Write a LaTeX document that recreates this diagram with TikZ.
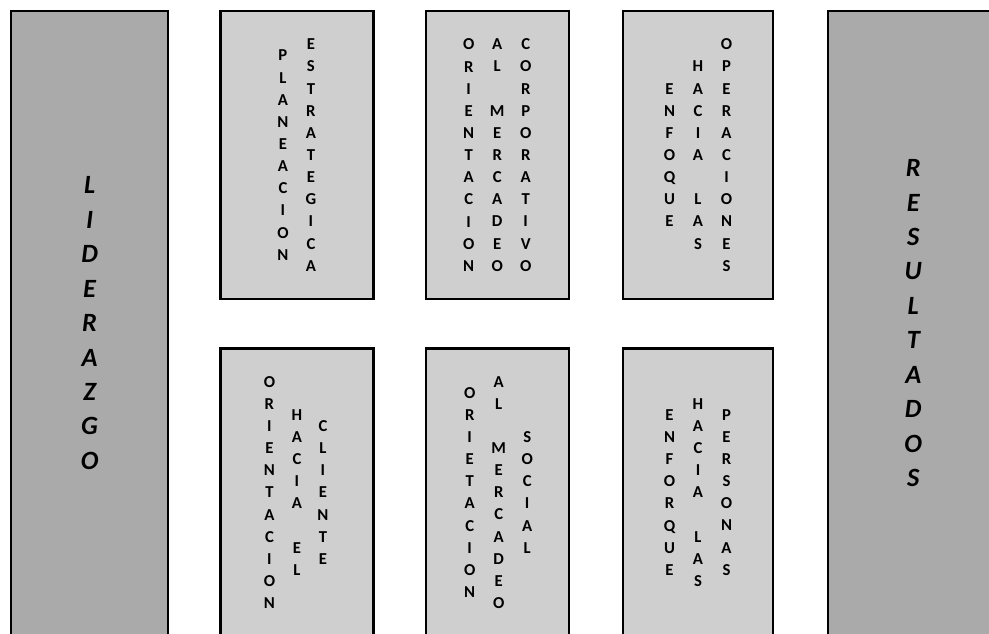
\documentclass[tikz,border=0pt]{standalone}
\usepackage{fontspec}
\setmainfont{Carlito}
\usetikzlibrary{positioning}
\definecolor{sidegray}{HTML}{AAAAAA}
\definecolor{boxgray}{HTML}{CFCFCF}
\newcommand{\vacio}{\mbox{}}

\begin{document}
\begin{tikzpicture}[
                side/.style={rectangle, draw, line width=1.3pt, fill=sidegray, minimum height=12.6cm, inner sep=0pt},
                area/.style={rectangle, draw, line width=1.3pt, fill=boxgray, minimum height=5.76cm, inner sep=0pt},
                sidetext/.style={align=center, inner sep=0pt, font=\fontsize{15}{19.6}\selectfont\bfseries\itshape},
                letters/.style={align=center, inner sep=0pt, font=\fontsize{9.5}{12.6}\selectfont\bfseries}
            ]
                \clip (0,0) rectangle (19.78,-12.68);

                % Side columns
                \node[side, minimum width=3.14cm, anchor=north west] (lid) at (0.2,-0.2) {};
                \node[sidetext] (lidtxt) at ([yshift=0.06cm]lid.center) {L\\I\\D\\E\\R\\A\\Z\\G\\O};

                % Top row
                \node[area, minimum width=3.06cm, right=1.0cm of lid.north east, anchor=north west] (plan) {};
                \node[area, minimum width=2.86cm, right=1.0cm of plan.north east, anchor=north west] (merc) {};
                \node[area, minimum width=3.0cm, right=1.04cm of merc.north east, anchor=north west] (oper) {};

                \node[letters] (plan1) at ([xshift=-0.28cm]plan.center) {P\\L\\A\\N\\E\\A\\C\\I\\O\\N};
                \node[letters] (plan2) at ([xshift=0.28cm]plan.center) {E\\S\\T\\R\\A\\T\\E\\G\\I\\C\\A};

                \node[letters] (merc1) at ([xshift=-0.57cm]merc.center) {O\\R\\I\\E\\N\\T\\A\\C\\I\\O\\N};
                \node[letters] (merc2) at (merc.center) {A\\L\\\vacio\\M\\E\\R\\C\\A\\D\\E\\O};
                \node[letters] (merc3) at ([xshift=0.57cm]merc.center) {C\\O\\R\\P\\O\\R\\A\\T\\I\\V\\O};

                \node[letters] (oper1) at ([xshift=-0.57cm]oper.center) {E\\N\\F\\O\\Q\\U\\E};
                \node[letters] (oper2) at (oper.center) {H\\A\\C\\I\\A\\\vacio\\L\\A\\S};
                \node[letters] (oper3) at ([xshift=0.57cm]oper.center) {O\\P\\E\\R\\A\\C\\I\\O\\N\\E\\S};

                % Bottom row
                \node[area, minimum width=3.06cm, below=0.94cm of plan.south west, anchor=north west] (clie) {};
                \node[area, minimum width=2.86cm, below=0.94cm of merc.south west, anchor=north west] (soci) {};
                \node[area, minimum width=3.0cm, below=0.94cm of oper.south west, anchor=north west] (pers) {};

                \node[letters] (clie1) at ([xshift=-0.55cm]clie.center) {O\\R\\I\\E\\N\\T\\A\\C\\I\\O\\N};
                \node[letters] (clie2) at (clie.center) {H\\A\\C\\I\\A\\\vacio\\E\\L};
                \node[letters] (clie3) at ([xshift=0.52cm]clie.center) {C\\L\\I\\E\\N\\T\\E};

                \node[letters] (soci1) at ([xshift=-0.55cm]soci.center) {O\\R\\I\\E\\T\\A\\C\\I\\O\\N};
                \node[letters] (soci2) at ([xshift=0.03cm]soci.center) {A\\L\\\vacio\\M\\E\\R\\C\\A\\D\\E\\O};
                \node[letters] (soci3) at ([xshift=0.6cm]soci.center) {S\\O\\C\\I\\A\\L};

                \node[letters] (pers1) at ([xshift=-0.57cm]pers.center) {E\\N\\F\\O\\R\\Q\\U\\E};
                \node[letters] (pers2) at (pers.center) {H\\A\\C\\I\\A\\\vacio\\L\\A\\S};
                \node[letters] (pers3) at ([xshift=0.57cm]pers.center) {P\\E\\R\\S\\O\\N\\A\\S};

                % Results
                \node[side, minimum width=3.4cm, right=1.06cm of oper.north east, anchor=north west] (res) {};
                \node[sidetext] (restxt) at ([yshift=0.06cm]res.center) {R\\E\\S\\U\\L\\T\\A\\D\\O\\S};
            \end{tikzpicture}
\end{document}
